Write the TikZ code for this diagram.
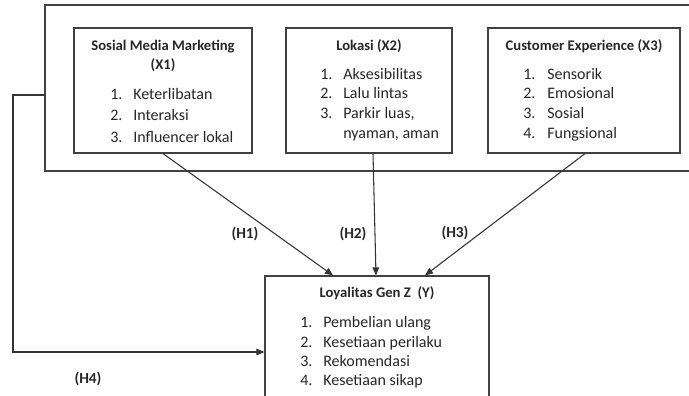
\documentclass[tikz,border=0pt]{standalone}
\usepackage{fontspec}
\setmainfont{Carlito}
\usetikzlibrary{arrows.meta}
\begin{document}
\begin{tikzpicture}[x=0.75pt,y=-0.75pt,
  every node/.style={font=\fontsize{12}{14}\selectfont, text=black!85, inner sep=0pt},
  box/.style={draw=black!75, line width=0.9pt, rectangle, inner sep=0pt},
  ttl/.style={anchor=base, font=\fontsize{11}{13}\selectfont\bfseries},
  itm/.style={anchor=base west},
  hyp/.style={anchor=base, font=\fontsize{11.5}{13}\selectfont\bfseries},
  arr/.style={draw=black!80, line width=0.8pt, -{Triangle[length=6pt,width=5pt]}},
  ln/.style={draw=black!75, line width=0.9pt}]
\useasboundingbox (0,0) rectangle (689,396);
\clip (0,0) rectangle (689,396);
% boxes
\node[box, minimum width=660*0.75pt, minimum height=166*0.75pt] (outer) at (375,88) {};
\node[box, minimum width=178*0.75pt, minimum height=125*0.75pt] (x1) at (163,90.5) {};
\node[box, minimum width=166*0.75pt, minimum height=125*0.75pt] (x2) at (369,90.5) {};
\node[box, minimum width=192*0.75pt, minimum height=125*0.75pt] (x3) at (584,90.5) {};
\node[box, minimum width=224*0.75pt, minimum height=134*0.75pt] (y) at (377,343) {};
% X1 text
\node[ttl] (x1t) at (163,50) {Sosial Media Marketing};
\node[ttl] (x1t2) at (163,69) {(X1)};
\node[itm] (x1n1) at (110,99) {1.};
\node[itm] (x1a) at (133,99) {Keterlibatan};
\node[itm] (x1n2) at (110,120) {2.};
\node[itm] (x1b) at (133,120) {Interaksi};
\node[itm] (x1n3) at (110,142) {3.};
\node[itm] (x1c) at (133,142) {Influencer lokal};
% X2 text
\node[ttl] (x2t) at (369,50) {Lokasi (X2)};
\node[itm] (x2n1) at (320,79) {1.};
\node[itm] (x2a) at (343,79) {Aksesibilitas};
\node[itm] (x2n2) at (320,98) {2.};
\node[itm] (x2b) at (343,98) {Lalu lintas};
\node[itm] (x2n3) at (320,118) {3.};
\node[itm] (x2c) at (343,118) {Parkir luas,};
\node[itm] (x2d) at (343,138) {nyaman, aman};
% X3 text
\node[ttl] (x3t) at (584,50) {Customer Experience (X3)};
\node[itm] (x3n1) at (523,79) {1.};
\node[itm] (x3a) at (547,79) {Sensorik};
\node[itm] (x3n2) at (523,98) {2.};
\node[itm] (x3b) at (547,98) {Emosional};
\node[itm] (x3n3) at (523,118) {3.};
\node[itm] (x3c) at (547,118) {Sosial};
\node[itm] (x3n4) at (523,138) {4.};
\node[itm] (x3d) at (547,138) {Fungsional};
% Y text
\node[ttl] (yt) at (377,297) {Loyalitas Gen Z\ \ (Y)};
\node[itm] (yn1) at (300,327) {1.};
\node[itm] (ya) at (323,327) {Pembelian ulang};
\node[itm] (yn2) at (300,347) {2.};
\node[itm] (yb) at (323,347) {Kesetiaan perilaku};
\node[itm] (yn3) at (300,366) {3.};
\node[itm] (yc) at (323,366) {Rekomendasi};
\node[itm] (yn4) at (300,385) {4.};
\node[itm] (yd) at (323,385) {Kesetiaan sikap};
% hypothesis labels
\node[hyp] (h1) at (245,238) {(H1)};
\node[hyp] (h2) at (353,238) {(H2)};
\node[hyp] (h3) at (455,237) {(H3)};
\node[hyp] (h4) at (88,383) {(H4)};
% connectors
\coordinate (h4a) at (13,95);
\coordinate (h4b) at (13,352);
\draw[arr] (x1.south) -- (y.north -| {(333,0)});
\draw[arr] (x2.south -| {(373,0)}) -- (y.north -| {(376,0)});
\draw[arr] (x3.south -| {(585,0)}) -- (y.north -| {(425,0)});
\draw[arr] (outer.west |- h4a) -- (h4a) -- (h4b) -- (y.west |- h4b);
\end{tikzpicture}
\end{document}
